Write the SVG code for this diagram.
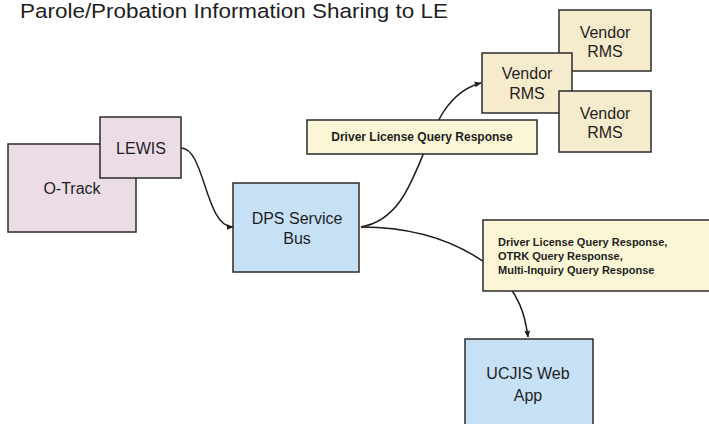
<svg xmlns="http://www.w3.org/2000/svg" width="709" height="424" viewBox="0 0 709 424">
<defs>
<style>
.n{stroke:#2b2b2b;stroke-width:1.5}
.pink{fill:#ecdce6}
.blue{fill:#c6e1f6}
.tan{fill:#f7ebcd}
.lbl{fill:#fbf7d6}
.t{font-family:"Liberation Sans",Arial,sans-serif;font-size:16px;fill:#1e1e1e;text-anchor:middle;dominant-baseline:central}
.s{font-family:"Liberation Sans",Arial,sans-serif;font-size:11px;font-weight:bold;fill:#1e1e1e;dominant-baseline:central}
.c{fill:none;stroke:#1e1e1e;stroke-width:1.5}
</style>
<marker id="ah" viewBox="0 0 10 10" refX="9" refY="5" markerWidth="7" markerHeight="7" orient="auto" markerUnits="userSpaceOnUse">
<path d="M0,1 L10,5 L0,9 z" fill="#1e1e1e"/>
</marker>
</defs>
<rect width="709" height="424" fill="#ffffff"/>
<text x="20" y="18" font-family="Liberation Sans,Arial,sans-serif" font-size="20.5" textLength="428" lengthAdjust="spacingAndGlyphs" fill="#1e1e1e">Parole/Probation Information Sharing to LE</text>
<g id="connectors">
<path class="c" d="M181,148 C205,148 205,227 233,227" marker-end="url(#ah)"/>
<path class="c" d="M361,227 C430,215 415,100 481,83" marker-end="url(#ah)"/>
<path class="c" d="M361,227 C430,227 470,250 495,270 C520,295 525,315 528,337" marker-end="url(#ah)"/>
</g>
<g id="otrack"><rect class="n pink" x="8" y="144" width="128" height="88"/><text class="t" x="72" y="188">O-Track</text></g>
<g id="lewis"><rect class="n pink" x="100" y="117" width="81" height="61"/><text class="t" x="141" y="148">LEWIS</text></g>
<g id="dps"><rect class="n blue" x="233" y="183" width="126" height="89"/><text class="t" x="297" y="218">DPS Service</text><text class="t" x="297" y="238">Bus</text></g>
<g id="vendor1"><rect class="n tan" x="559" y="10" width="92" height="61"/><text class="t" x="605" y="32">Vendor</text><text class="t" x="605" y="51">RMS</text></g>
<g id="vendor2"><rect class="n tan" x="482" y="53" width="90" height="60"/><text class="t" x="527" y="73">Vendor</text><text class="t" x="527" y="93">RMS</text></g>
<g id="vendor3"><rect class="n tan" x="559" y="91" width="92" height="61"/><text class="t" x="605" y="113">Vendor</text><text class="t" x="605" y="132">RMS</text></g>
<g id="label1"><rect class="n lbl" x="307" y="120" width="230" height="34"/><text class="s" x="422" y="137" text-anchor="middle" style="font-size:12px">Driver License Query Response</text></g>
<g id="label2"><rect class="n lbl" x="483" y="220" width="230" height="71"/><text class="s" x="498" y="242">Driver License Query Response,</text><text class="s" x="498" y="256">OTRK Query Response,</text><text class="s" x="498" y="270">Multi-Inquiry Query Response</text></g>
<g id="ucjis"><rect class="n blue" x="465" y="339" width="128" height="95"/><text class="t" x="528" y="373">UCJIS Web</text><text class="t" x="528" y="395">App</text></g>
</svg>
